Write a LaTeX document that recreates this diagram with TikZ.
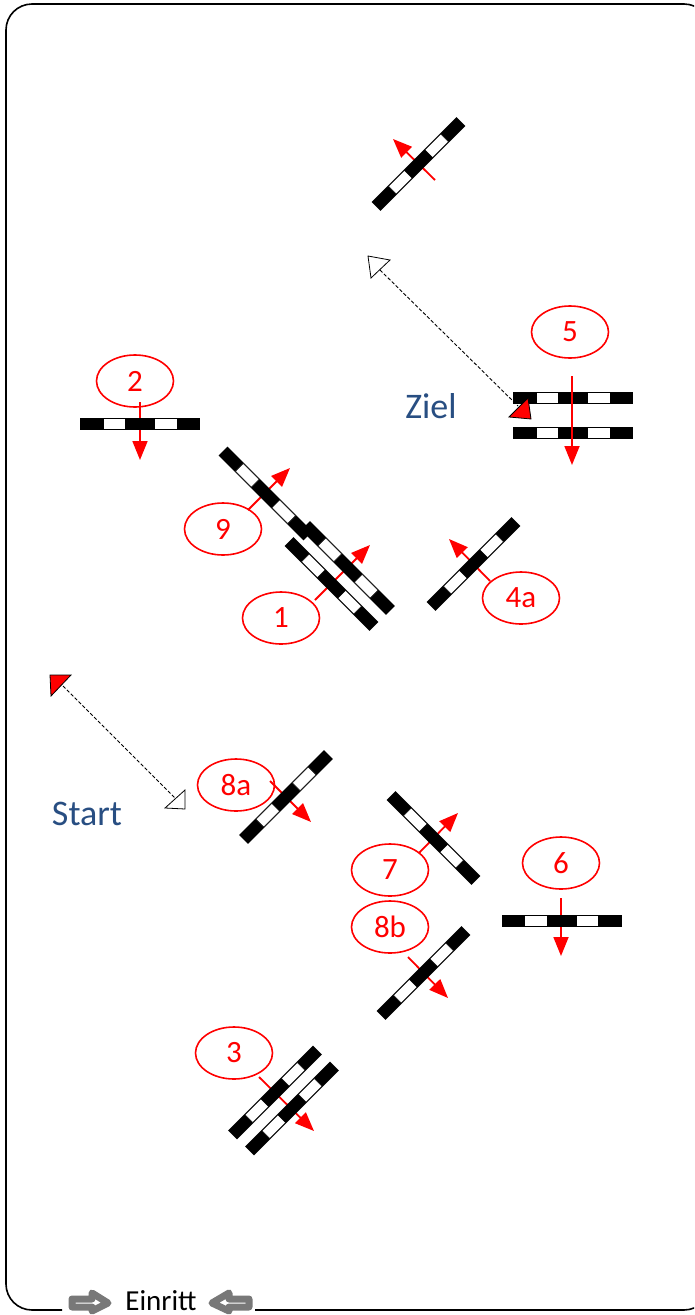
\documentclass[tikz,border=0pt]{standalone}
\usepackage{fontspec}
\setmainfont{Carlito}
\usetikzlibrary{arrows.meta,shapes.geometric}
\definecolor{zielblue}{RGB}{40,78,130}
\definecolor{icongray}{RGB}{120,120,120}
\tikzset{
  frameline/.style={black,line width=1.6pt},
  tag/.style={ellipse,draw=red,line width=1.6pt,fill=none,minimum width=77pt,minimum height=52pt,inner sep=0pt,text=red,font=\fontsize{31}{31}\selectfont},
  dirarrow/.style={red,line width=1.8pt,-{Triangle[length=19pt,width=15pt]}},
  route/.style={black,line width=.9pt,dash pattern=on 3.5pt off 2pt},
  marker/.style={draw=black,line width=.8pt},
  caption/.style={text=zielblue,font=\fontsize{36}{36}\selectfont,inner sep=0pt},
  barblack/.style={fill=black,draw=none},
  barwhite/.style={fill=white,draw=black,line width=.5pt},
  icon/.style={draw=icongray,fill=white,line width=7pt,line join=round},
}
\newcommand{\railbar}[3]{%
  \begin{scope}[shift={(#1,#2)},rotate=#3]
    \fill[barblack] (-60,-6.3) rectangle (60,6.3);
    \filldraw[barwhite] (-37,-5.5) rectangle (-14.5,5.5);
    \filldraw[barwhite] (14.5,-5.5) rectangle (37,5.5);
  \end{scope}}
\begin{document}
\begin{tikzpicture}[x=1pt,y=-1pt]
\useasboundingbox (0,0) rectangle (694,1315);
\fill[white] (0,0) rectangle (694,1315);
% frame
\begin{scope}
\clip (0,0) rectangle (694,1315);
\coordinate (fa) at (62,1310);
\coordinate (fb) at (255,1310);
\draw[frameline,rounded corners=26pt] (fa) -- (6,1310) -- (6,4) -- (710,4) -- (710,1310) -- (fb);
\end{scope}
% arrows under the bars
\coordinate (s0) at (435,180); \coordinate (t0) at (393,139);
\draw[dirarrow] (s0) -- (t0);
\coordinate (s9) at (248,510); \coordinate (t9) at (290,468);
\draw[dirarrow] (s9) -- (t9);
\coordinate (s1) at (315,600); \coordinate (t1) at (370,545);
\draw[dirarrow] (s1) -- (t1);
\coordinate (s4) at (490,581); \coordinate (t4) at (449,539);
\draw[dirarrow] (s4) -- (t4);
\coordinate (s8a) at (270,781); \coordinate (t8a) at (311,822);
\draw[dirarrow] (s8a) -- (t8a);
\coordinate (s7) at (419,853); \coordinate (t7) at (458,813);
\draw[dirarrow] (s7) -- (t7);
\coordinate (s8b) at (408,957); \coordinate (t8b) at (448,998);
\draw[dirarrow] (s8b) -- (t8b);
\coordinate (s3) at (259,1077); \coordinate (t3) at (314,1131);
\draw[dirarrow] (s3) -- (t3);
\coordinate (s2) at (140,402); \coordinate (t2) at (140,460);
\draw[dirarrow] (s2) -- (t2);
\coordinate (s6) at (561,898); \coordinate (t6) at (561,956);
\draw[dirarrow] (s6) -- (t6);
% bars
\railbar{418.5}{164}{45}
\railbar{573}{398}{0}
\railbar{573}{433}{0}
\railbar{140}{424}{0}
\railbar{265.5}{493.5}{-45}
\railbar{348}{568}{-45}
\railbar{331.5}{584}{-45}
\railbar{473.5}{564}{45}
\railbar{286}{797}{45}
\railbar{433.5}{838}{-45}
\railbar{561.5}{921}{0}
\railbar{423.5}{973}{45}
\railbar{275}{1092.5}{45}
\railbar{292}{1108.5}{45}
% arrows over the bars
\coordinate (s5) at (572,376); \coordinate (t5) at (572,465);
\draw[dirarrow] (s5) -- (t5);
% tags
\node[tag] (e5) at (570,332) {5};
\node[tag] (e2) at (135,381) {2};
\node[tag] (e9) at (223,529) {9};
\node[tag] (e1) at (281,618) {1};
\node[tag] (e4a) at (521,598) {4a};
\node[tag] (e8a) at (236,785) {8a};
\node[tag] (e7) at (390,870) {7};
\node[tag] (e6) at (561,863) {6};
\node[tag] (e8b) at (390,927) {8b};
\node[tag] (e3) at (234,1053) {3};
% routes
\coordinate (r1) at (63,686); \coordinate (r2) at (175,798);
\draw[route] (r1) -- (r2);
\coordinate (r3) at (380,270); \coordinate (r4) at (518,406);
\draw[route] (r3) -- (r4);
\filldraw[marker,fill=red] (50,675) -- (71,675) -- (51,696) -- cycle;
\filldraw[marker,fill=white] (165,808) -- (185,790) -- (185,809) -- cycle;
\filldraw[marker,fill=white] (368,256) -- (390,260) -- (371,278) -- cycle;
\filldraw[marker,fill=red] (509,417) -- (528,398) -- (531,419) -- cycle;
% captions
\node[caption] (ziel) at (431,406) {Ziel};
\node[caption] (start) at (87,814) {Start};
% entrance
\node[inner sep=0pt,anchor=base,font=\fontsize{29}{29}\selectfont] (einritt) at (161,1310.5) {Einritt};
\filldraw[icon] (72,1299) -- (92,1299) -- (92,1293) -- (108,1303) -- (92,1311) -- (92,1307) -- (72,1307) -- cycle;
\filldraw[icon] (249,1299) -- (229,1299) -- (229,1293) -- (212,1303) -- (229,1311) -- (229,1307) -- (249,1307) -- cycle;
\end{tikzpicture}
\end{document}
